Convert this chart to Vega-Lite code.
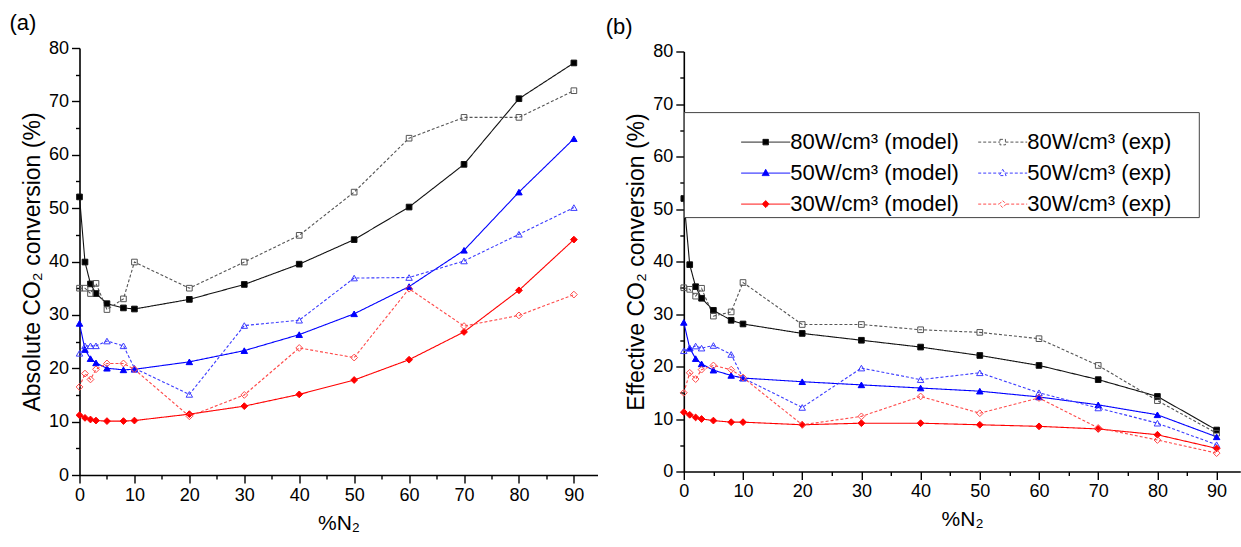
{
"$schema": "https://vega.github.io/schema/vega-lite/v6.json",
"padding": {"left": 8.5, "top": 12, "right": 0, "bottom": 0},
"background": "white",
"config": {
  "font": "Liberation Sans",
  "view": {"stroke": null},
  "axis": {"domainColor": "#000", "domainWidth": 1.6, "tickColor": "#000", "tickWidth": 1.4, "labelColor": "#000", "labelFontSize": 18, "labelFont": "Liberation Sans", "titleFont": "Liberation Sans", "titleFontSize": 23, "titleFontWeight": "normal", "titleColor": "#000", "grid": false, "labelPadding": 3, "labelFlush": false},
  "title": {"fontSize": 22, "fontWeight": "normal", "font": "Liberation Sans", "anchor": "start", "frame": "bounds", "color": "#000"}
},
"data": {"values": [
{"p":"a","s":"M80","x":0,"y":52.1},{"p":"a","s":"M80","x":1,"y":39.9},{"p":"a","s":"M80","x":2,"y":35.8},{"p":"a","s":"M80","x":3,"y":34.0},{"p":"a","s":"M80","x":5,"y":32.1},{"p":"a","s":"M80","x":8,"y":31.3},{"p":"a","s":"M80","x":10,"y":31.1},{"p":"a","s":"M80","x":20,"y":32.9},{"p":"a","s":"M80","x":30,"y":35.7},{"p":"a","s":"M80","x":40,"y":39.5},{"p":"a","s":"M80","x":50,"y":44.1},{"p":"a","s":"M80","x":60,"y":50.2},{"p":"a","s":"M80","x":70,"y":58.2},{"p":"a","s":"M80","x":80,"y":70.5},{"p":"a","s":"M80","x":90,"y":77.2},
{"p":"a","s":"E80","x":0,"y":35.0},{"p":"a","s":"E80","x":1,"y":35.0},{"p":"a","s":"E80","x":2,"y":34.0},{"p":"a","s":"E80","x":3,"y":35.9},{"p":"a","s":"E80","x":5,"y":31.0},{"p":"a","s":"E80","x":8,"y":33.0},{"p":"a","s":"E80","x":10,"y":39.9},{"p":"a","s":"E80","x":20,"y":35.0},{"p":"a","s":"E80","x":30,"y":39.9},{"p":"a","s":"E80","x":40,"y":44.9},{"p":"a","s":"E80","x":50,"y":53.0},{"p":"a","s":"E80","x":60,"y":63.1},{"p":"a","s":"E80","x":70,"y":67.0},{"p":"a","s":"E80","x":80,"y":67.0},{"p":"a","s":"E80","x":90,"y":72.0},
{"p":"a","s":"M50","x":0,"y":28.4},{"p":"a","s":"M50","x":1,"y":23.5},{"p":"a","s":"M50","x":2,"y":21.8},{"p":"a","s":"M50","x":3,"y":21.0},{"p":"a","s":"M50","x":5,"y":20.0},{"p":"a","s":"M50","x":8,"y":19.7},{"p":"a","s":"M50","x":10,"y":19.8},{"p":"a","s":"M50","x":20,"y":21.2},{"p":"a","s":"M50","x":30,"y":23.3},{"p":"a","s":"M50","x":40,"y":26.3},{"p":"a","s":"M50","x":50,"y":30.2},{"p":"a","s":"M50","x":60,"y":35.3},{"p":"a","s":"M50","x":70,"y":42.1},{"p":"a","s":"M50","x":80,"y":53.0},{"p":"a","s":"M50","x":90,"y":63.0},
{"p":"a","s":"E50","x":0,"y":22.8},{"p":"a","s":"E50","x":1,"y":24.2},{"p":"a","s":"E50","x":2,"y":24.2},{"p":"a","s":"E50","x":3,"y":24.2},{"p":"a","s":"E50","x":5,"y":25.1},{"p":"a","s":"E50","x":8,"y":24.2},{"p":"a","s":"E50","x":10,"y":20.0},{"p":"a","s":"E50","x":20,"y":15.1},{"p":"a","s":"E50","x":30,"y":28.0},{"p":"a","s":"E50","x":40,"y":29.0},{"p":"a","s":"E50","x":50,"y":36.9},{"p":"a","s":"E50","x":60,"y":37.0},{"p":"a","s":"E50","x":70,"y":40.1},{"p":"a","s":"E50","x":80,"y":45.1},{"p":"a","s":"E50","x":90,"y":50.1},
{"p":"a","s":"M30","x":0,"y":11.2},{"p":"a","s":"M30","x":1,"y":10.7},{"p":"a","s":"M30","x":2,"y":10.4},{"p":"a","s":"M30","x":3,"y":10.2},{"p":"a","s":"M30","x":5,"y":10.1},{"p":"a","s":"M30","x":8,"y":10.1},{"p":"a","s":"M30","x":10,"y":10.2},{"p":"a","s":"M30","x":20,"y":11.4},{"p":"a","s":"M30","x":30,"y":12.9},{"p":"a","s":"M30","x":40,"y":15.1},{"p":"a","s":"M30","x":50,"y":17.8},{"p":"a","s":"M30","x":60,"y":21.6},{"p":"a","s":"M30","x":70,"y":26.8},{"p":"a","s":"M30","x":80,"y":34.6},{"p":"a","s":"M30","x":90,"y":44.1},
{"p":"a","s":"E30","x":0,"y":16.5},{"p":"a","s":"E30","x":1,"y":19.0},{"p":"a","s":"E30","x":2,"y":17.9},{"p":"a","s":"E30","x":3,"y":19.8},{"p":"a","s":"E30","x":5,"y":20.9},{"p":"a","s":"E30","x":8,"y":20.9},{"p":"a","s":"E30","x":10,"y":19.8},{"p":"a","s":"E30","x":20,"y":11.0},{"p":"a","s":"E30","x":30,"y":15.0},{"p":"a","s":"E30","x":40,"y":23.8},{"p":"a","s":"E30","x":50,"y":22.0},{"p":"a","s":"E30","x":60,"y":34.9},{"p":"a","s":"E30","x":70,"y":27.9},{"p":"a","s":"E30","x":80,"y":29.9},{"p":"a","s":"E30","x":90,"y":33.8},
{"p":"b","s":"M80","x":0,"y":52.0},{"p":"b","s":"M80","x":1,"y":39.4},{"p":"b","s":"M80","x":2,"y":35.2},{"p":"b","s":"M80","x":3,"y":33.0},{"p":"b","s":"M80","x":5,"y":30.7},{"p":"b","s":"M80","x":8,"y":28.8},{"p":"b","s":"M80","x":10,"y":28.1},{"p":"b","s":"M80","x":20,"y":26.3},{"p":"b","s":"M80","x":30,"y":25.0},{"p":"b","s":"M80","x":40,"y":23.7},{"p":"b","s":"M80","x":50,"y":22.1},{"p":"b","s":"M80","x":60,"y":20.2},{"p":"b","s":"M80","x":70,"y":17.5},{"p":"b","s":"M80","x":80,"y":14.3},{"p":"b","s":"M80","x":90,"y":7.9},
{"p":"b","s":"E80","x":0,"y":35.0},{"p":"b","s":"E80","x":1,"y":34.7},{"p":"b","s":"E80","x":2,"y":33.4},{"p":"b","s":"E80","x":3,"y":34.9},{"p":"b","s":"E80","x":5,"y":29.6},{"p":"b","s":"E80","x":8,"y":30.4},{"p":"b","s":"E80","x":10,"y":36.0},{"p":"b","s":"E80","x":20,"y":28.0},{"p":"b","s":"E80","x":30,"y":28.0},{"p":"b","s":"E80","x":40,"y":27.0},{"p":"b","s":"E80","x":50,"y":26.5},{"p":"b","s":"E80","x":60,"y":25.3},{"p":"b","s":"E80","x":70,"y":20.2},{"p":"b","s":"E80","x":80,"y":13.5},{"p":"b","s":"E80","x":90,"y":7.3},
{"p":"b","s":"M50","x":0,"y":28.4},{"p":"b","s":"M50","x":1,"y":23.5},{"p":"b","s":"M50","x":2,"y":21.5},{"p":"b","s":"M50","x":3,"y":20.5},{"p":"b","s":"M50","x":5,"y":19.3},{"p":"b","s":"M50","x":8,"y":18.3},{"p":"b","s":"M50","x":10,"y":17.8},{"p":"b","s":"M50","x":20,"y":17.1},{"p":"b","s":"M50","x":30,"y":16.5},{"p":"b","s":"M50","x":40,"y":15.9},{"p":"b","s":"M50","x":50,"y":15.3},{"p":"b","s":"M50","x":60,"y":14.2},{"p":"b","s":"M50","x":70,"y":12.7},{"p":"b","s":"M50","x":80,"y":10.8},{"p":"b","s":"M50","x":90,"y":6.6},
{"p":"b","s":"E50","x":0,"y":23.0},{"p":"b","s":"E50","x":1,"y":23.5},{"p":"b","s":"E50","x":2,"y":23.9},{"p":"b","s":"E50","x":3,"y":23.5},{"p":"b","s":"E50","x":5,"y":24.0},{"p":"b","s":"E50","x":8,"y":22.3},{"p":"b","s":"E50","x":10,"y":17.8},{"p":"b","s":"E50","x":20,"y":12.2},{"p":"b","s":"E50","x":30,"y":19.7},{"p":"b","s":"E50","x":40,"y":17.5},{"p":"b","s":"E50","x":50,"y":18.8},{"p":"b","s":"E50","x":60,"y":15.0},{"p":"b","s":"E50","x":70,"y":12.1},{"p":"b","s":"E50","x":80,"y":9.2},{"p":"b","s":"E50","x":90,"y":5.1},
{"p":"b","s":"M30","x":0,"y":11.3},{"p":"b","s":"M30","x":1,"y":10.8},{"p":"b","s":"M30","x":2,"y":10.3},{"p":"b","s":"M30","x":3,"y":10.0},{"p":"b","s":"M30","x":5,"y":9.7},{"p":"b","s":"M30","x":8,"y":9.4},{"p":"b","s":"M30","x":10,"y":9.4},{"p":"b","s":"M30","x":20,"y":8.9},{"p":"b","s":"M30","x":30,"y":9.2},{"p":"b","s":"M30","x":40,"y":9.2},{"p":"b","s":"M30","x":50,"y":8.9},{"p":"b","s":"M30","x":60,"y":8.6},{"p":"b","s":"M30","x":70,"y":8.1},{"p":"b","s":"M30","x":80,"y":7.0},{"p":"b","s":"M30","x":90,"y":4.4},
{"p":"b","s":"E30","x":0,"y":15.0},{"p":"b","s":"E30","x":1,"y":18.8},{"p":"b","s":"E30","x":2,"y":17.6},{"p":"b","s":"E30","x":3,"y":19.4},{"p":"b","s":"E30","x":5,"y":20.2},{"p":"b","s":"E30","x":8,"y":19.4},{"p":"b","s":"E30","x":10,"y":17.9},{"p":"b","s":"E30","x":20,"y":8.9},{"p":"b","s":"E30","x":30,"y":10.5},{"p":"b","s":"E30","x":40,"y":14.3},{"p":"b","s":"E30","x":50,"y":11.1},{"p":"b","s":"E30","x":60,"y":14.0},{"p":"b","s":"E30","x":70,"y":8.3},{"p":"b","s":"E30","x":80,"y":6.0},{"p":"b","s":"E30","x":90,"y":3.5}
]},
"spacing": 7.3,
"center": true,
"resolve": {"scale": {"stroke": "independent", "strokeDash": "independent"}},
"hconcat": [
{
  "width": 518, "height": 427,
  "title": {"text": "(a)", "dx": -12, "offset": 4},
  "transform": [{"filter": {"field": "p", "equal": "a"}}],
  "encoding": {
    "x": {"field": "x", "type": "quantitative", "scale": {"domain": [0, 94.3], "nice": false}, "axis": {"values": [0,5,10,15,20,25,30,35,40,45,50,55,60,65,70,75,80,85,90], "title": "%N₂", "labelExpr": "datum.value % 10 === 0 ? datum.label : ''", "tickSize": {"condition": {"test": "datum.value % 10 === 0", "value": 8}, "value": 4}, "titlePadding": 8, "titleFontSize": 21}},
    "y": {"field": "y", "type": "quantitative", "scale": {"domain": [0, 80], "nice": false}, "axis": {"values": [0,5,10,15,20,25,30,35,40,45,50,55,60,65,70,75,80], "title": "Absolute CO₂ conversion (%)", "labelExpr": "datum.value % 10 === 0 ? datum.label : ''", "tickSize": {"condition": {"test": "datum.value % 10 === 0", "value": 8}, "value": 4}, "titlePadding": 4}}
  },
  "layer": [
    {"mark": {"type": "line", "strokeWidth": 1.1},
     "encoding": {
       "stroke": {"field": "s", "type": "nominal", "scale": {"domain": ["M80","M50","M30","E80","E50","E30"], "range": ["#111111","#0000ff","#ff0000","#555555","#3c3cff","#ff4a4a"]}, "legend": null},
       "strokeDash": {"field": "s", "type": "nominal", "scale": {"domain": ["M80","M50","M30","E80","E50","E30"], "range": [[1,0],[1,0],[1,0],[3,2],[3,2],[3,2]]}, "legend": null}
     }},
    {"mark": {"type": "point", "opacity": 1, "strokeWidth": 1},
     "encoding": {
       "stroke": {"condition": [{"test": "datum.s === 'M80'", "value": "#111111"}, {"test": "datum.s === 'M50'", "value": "#0000ff"}, {"test": "datum.s === 'M30'", "value": "#ff0000"}, {"test": "datum.s === 'E80'", "value": "#555555"}, {"test": "datum.s === 'E50'", "value": "#3c3cff"}], "value": "#ff4a4a"},
       "shape": {"condition": [{"test": "indexof(datum.s,'80') >= 0", "value": "square"}, {"test": "indexof(datum.s,'50') >= 0", "value": "triangle-up"}], "value": "diamond"},
       "fill": {"condition": [{"test": "datum.s === 'M80'", "value": "#000000"}, {"test": "datum.s === 'M50'", "value": "#0000ff"}, {"test": "datum.s === 'M30'", "value": "#ff0000"}], "value": "transparent"},
       "size": {"condition": [{"test": "indexof(datum.s,'80') >= 0", "value": 32}, {"test": "indexof(datum.s,'50') >= 0", "value": 42}], "value": 46}
     }}
  ]
},
{
  "width": 556.5, "height": 420,
  "title": {"text": "(b)", "dx": -20, "offset": 4},
  "transform": [{"filter": {"field": "p", "equal": "b"}}],
  "encoding": {
    "x": {"field": "x", "type": "quantitative", "scale": {"domain": [0, 94], "nice": false}, "axis": {"values": [0,5,10,15,20,25,30,35,40,45,50,55,60,65,70,75,80,85,90], "title": "%N₂", "labelExpr": "datum.value % 10 === 0 ? datum.label : ''", "tickSize": {"condition": {"test": "datum.value % 10 === 0", "value": 8}, "value": 4}, "titlePadding": 8, "titleFontSize": 21}},
    "y": {"field": "y", "type": "quantitative", "scale": {"domain": [0, 80], "nice": false}, "axis": {"values": [0,5,10,15,20,25,30,35,40,45,50,55,60,65,70,75,80], "title": "Effective CO₂ conversion (%)", "labelExpr": "datum.value % 10 === 0 ? datum.label : ''", "tickSize": {"condition": {"test": "datum.value % 10 === 0", "value": 8}, "value": 4}, "titlePadding": 4}}
  },
  "layer": [
    {"mark": {"type": "line", "strokeWidth": 1.1},
     "encoding": {
       "stroke": {"field": "s", "type": "nominal", "scale": {"domain": ["D1","D2","D3","M80","M50","M30","E80","E50","E30"], "range": ["#ffffff","#ffffff","#ffffff","#111111","#0000ff","#ff0000","#555555","#3c3cff","#ff4a4a"]},
         "legend": {
           "orient": "none", "legendX": 0, "legendY": 60.6,
           "columns": 3, "columnPadding": 16, "rowPadding": 9,
           "symbolSize": 100, "symbolStrokeWidth": 1, "symbolOffset": 0.9, "labelOffset": 13.5,
           "labelFont": "Liberation Sans", "labelFontSize": 22, "labelColor": "#000", "labelLimit": 400,
           "labelExpr": "datum.value === 'M80' ? '80W/cm³ (model)' : datum.value === 'M50' ? '50W/cm³ (model)' : datum.value === 'M30' ? '30W/cm³ (model)' : datum.value === 'E80' ? '80W/cm³ (exp)    \u200B' : datum.value === 'E50' ? '50W/cm³ (exp)    \u200B' : datum.value === 'E30' ? '30W/cm³ (exp)    \u200B' : ''",
           "title": " ", "titleFontSize": 1, "titlePadding": 16,
           "padding": 2, "strokeColor": "#444444", "fillColor": "white",
           "encoding": {"symbols": {
             "shape": {"condition": [{"test": "indexof(datum.value,'D')===0", "value": "M0,0L0.01,0"}, {"test": "indexof(datum.value,'80')>=0", "value": "M-4.9,0L-0.55,0M0.55,0L4.9,0M-0.55,-0.55L0.55,-0.55L0.55,0.55L-0.55,0.55Z"}, {"test": "indexof(datum.value,'50')>=0", "value": "M-4.9,0L-0.42,0M0.42,0L4.9,0M0,-0.75L0.7,0.5L-0.7,0.5Z"}], "value": "M-4.9,0L-0.7,0M0.7,0L4.9,0M0,-0.7L0.7,0L0,0.7L-0.7,0Z"},
             "fill": {"condition": [{"test": "datum.value === 'M80'", "value": "#000000"}, {"test": "datum.value === 'M50'", "value": "#0000ff"}, {"test": "datum.value === 'M30'", "value": "#ff0000"}], "value": "#ffffff"},
             "strokeDash": {"condition": {"test": "indexof(datum.value,'E')===0", "value": [3,2]}, "value": [1,0]},
             "strokeWidth": {"value": 1},
             "opacity": {"condition": {"test": "indexof(datum.value,'D')===0", "value": 0}, "value": 1}
           }}
         }},
       "strokeDash": {"field": "s", "type": "nominal", "scale": {"domain": ["M80","M50","M30","E80","E50","E30"], "range": [[1,0],[1,0],[1,0],[3,2],[3,2],[3,2]]}, "legend": null}
     }},
    {"mark": {"type": "point", "opacity": 1, "strokeWidth": 1},
     "encoding": {
       "stroke": {"condition": [{"test": "datum.s === 'M80'", "value": "#111111"}, {"test": "datum.s === 'M50'", "value": "#0000ff"}, {"test": "datum.s === 'M30'", "value": "#ff0000"}, {"test": "datum.s === 'E80'", "value": "#555555"}, {"test": "datum.s === 'E50'", "value": "#3c3cff"}], "value": "#ff4a4a"},
       "shape": {"condition": [{"test": "indexof(datum.s,'80') >= 0", "value": "square"}, {"test": "indexof(datum.s,'50') >= 0", "value": "triangle-up"}], "value": "diamond"},
       "fill": {"condition": [{"test": "datum.s === 'M80'", "value": "#000000"}, {"test": "datum.s === 'M50'", "value": "#0000ff"}, {"test": "datum.s === 'M30'", "value": "#ff0000"}], "value": "transparent"},
       "size": {"condition": [{"test": "indexof(datum.s,'80') >= 0", "value": 32}, {"test": "indexof(datum.s,'50') >= 0", "value": 42}], "value": 46}
     }}
  ]
}
]
}
